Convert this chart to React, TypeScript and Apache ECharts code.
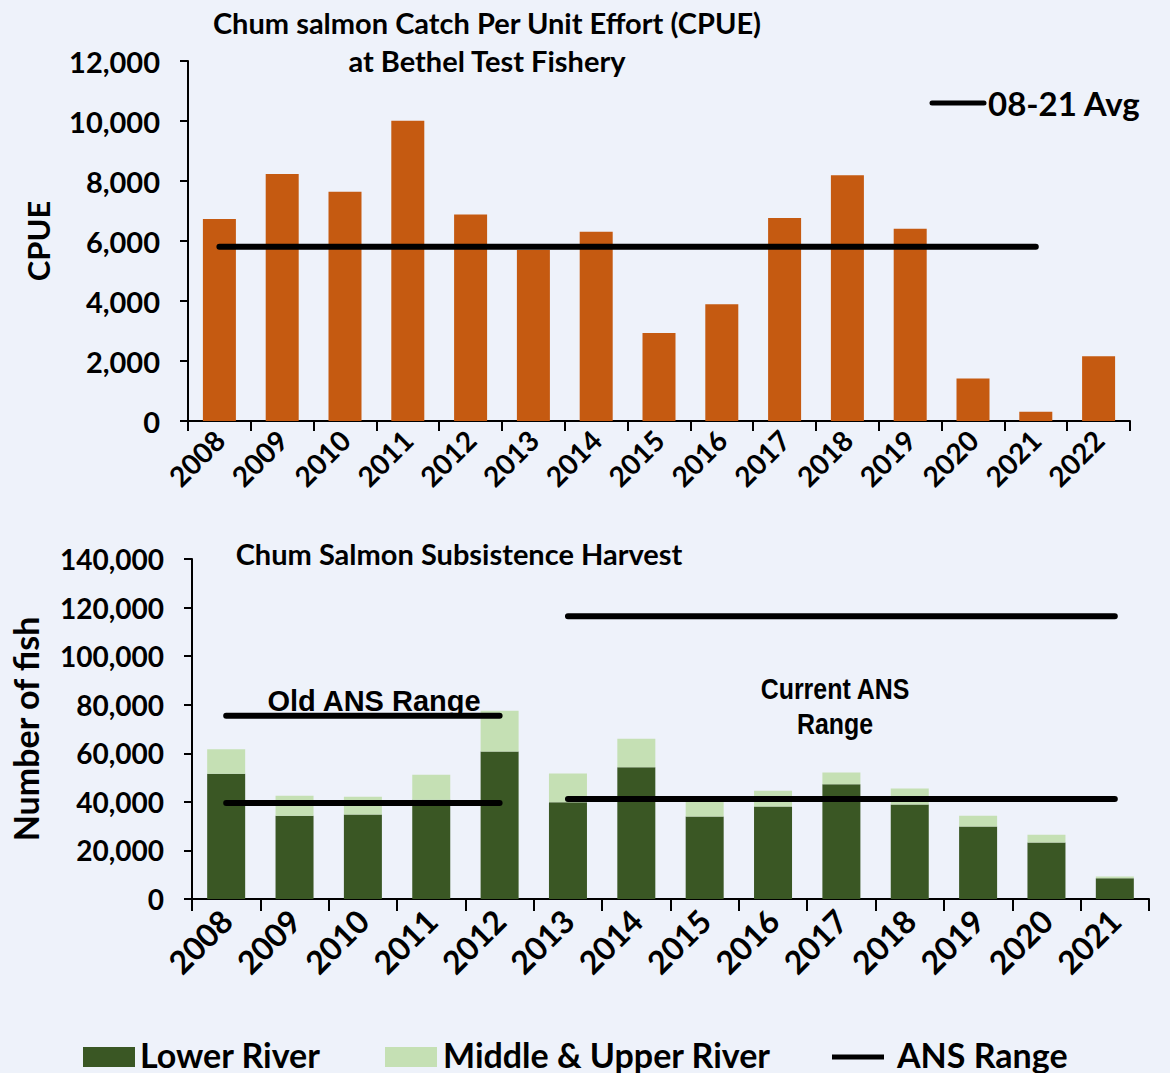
import React, { useEffect, useRef } from "react";
import * as echarts from "echarts";

const cpueYears = ["2008","2009","2010","2011","2012","2013","2014","2015","2016","2017","2018","2019","2020","2021","2022"];
const cpueValues = [6730, 8230, 7640, 10010, 6880, 5700, 6310, 2930, 3890, 6770, 8190, 6410, 1420, 310, 2160];
const cpueAvg0821 = 5810;
const avgLastYear = "2021";

const harvestYears = ["2008","2009","2010","2011","2012","2013","2014","2015","2016","2017","2018","2019","2020","2021"];
const lowerRiver = [51600, 34300, 34800, 40900, 60700, 39800, 54300, 34000, 38100, 47300, 38900, 29900, 23300, 8500];
const middleUpperRiver = [10100, 8200, 7300, 10300, 16800, 11900, 11700, 6500, 6500, 4800, 6600, 4400, 3200, 800];

const oldANS = { low: 39500, high: 75500, from: "2008", to: "2012" };
const currentANS = { low: 41200, high: 116400, from: "2013", to: "2021" };

const BG = "#EEF2FA";
const ORANGE = "#C55A11";
const DARK = "#3A5724";
const LIGHT = "#C5E0B4";
const FONT = "Lato, 'Open Sans', sans-serif";
const ARIAL = "'Liberation Sans', Arial, sans-serif";

const fmt = (v: number) => v.toLocaleString("en-US");

function rangeSeries(value: number, from: string, to: string) {
  const a = harvestYears.indexOf(from);
  const b = harvestYears.indexOf(to);
  return harvestYears.map((_, i) => (i >= a && i <= b ? value : "-"));
}

function txt(x: number, y: number, text: string, font: string, align = "center", extra: any = {}) {
  return {
    type: "text", x, y, z: 10, ...extra,
    style: { text, align, verticalAlign: "middle", textAlign: align, textVerticalAlign: "middle", font, fill: "#000" },
  };
}

export default function App() {
  const ref = useRef<HTMLDivElement>(null);
  useEffect(() => {
    document.body.style.margin = "0";
    const chart = echarts.init(ref.current!, null, { renderer: "svg" });
    const lastIdx = cpueYears.indexOf(avgLastYear);
    const avgData = cpueYears.map((_, i) => (i <= lastIdx ? cpueAvg0821 : "-"));
    const axisLine = { show: true, lineStyle: { color: "#000", width: 2 } };
    const lineStyle = { color: "#000", width: 6, cap: "round" as const };
    chart.setOption({
      animation: false,
      backgroundColor: BG,
      grid: [
        { left: 188, right: 40, top: 61, height: 360 },
        { left: 186, right: 21, top: 559, height: 340 },
      ],
      xAxis: [
        {
          type: "category", gridIndex: 0, data: cpueYears,
          axisLine, axisTick: { show: true, length: 10, lineStyle: { color: "#000", width: 2 } },
          axisLabel: { rotate: 45, margin: 14, color: "#000", fontFamily: FONT, fontWeight: "bold", fontSize: 28 },
        },
        {
          type: "category", gridIndex: 1, data: harvestYears,
          axisLine, axisTick: { show: true, length: 12, lineStyle: { color: "#000", width: 2 } },
          axisLabel: { rotate: 45, margin: 16, color: "#000", fontFamily: FONT, fontWeight: "bold", fontSize: 32 },
        },
      ],
      yAxis: [
        {
          type: "value", gridIndex: 0, min: 0, max: 12000, interval: 2000,
          name: "CPUE", nameLocation: "middle", nameGap: 135, nameRotate: 90,
          nameTextStyle: { color: "#000", fontFamily: FONT, fontWeight: "bold", fontSize: 31 },
          axisLine, axisTick: { show: true, length: 8, lineStyle: { color: "#000", width: 2 } },
          splitLine: { show: false },
          axisLabel: { formatter: fmt, margin: 28, color: "#000", fontFamily: FONT, fontWeight: "bold", fontSize: 29 },
        },
        {
          type: "value", gridIndex: 1, min: 0, max: 140000, interval: 20000,
          name: "Number of fish", nameLocation: "middle", nameGap: 150, nameRotate: 90,
          nameTextStyle: { color: "#000", fontFamily: FONT, fontWeight: "bold", fontSize: 34 },
          axisLine, axisTick: { show: true, length: 8, lineStyle: { color: "#000", width: 2 } },
          splitLine: { show: false },
          axisLabel: { formatter: fmt, margin: 28, color: "#000", fontFamily: FONT, fontWeight: "bold", fontSize: 28 },
        },
      ],
      series: [
        {
          type: "bar", xAxisIndex: 0, yAxisIndex: 0, data: cpueValues, barWidth: 33,
          itemStyle: { color: ORANGE },
        },
        {
          type: "line", xAxisIndex: 0, yAxisIndex: 0, data: avgData, showSymbol: false,
          lineStyle, z: 5,
        },
        {
          type: "bar", xAxisIndex: 1, yAxisIndex: 1, data: lowerRiver, stack: "h", barWidth: 38,
          itemStyle: { color: DARK },
        },
        {
          type: "bar", xAxisIndex: 1, yAxisIndex: 1, data: middleUpperRiver, stack: "h", barWidth: 38,
          itemStyle: { color: LIGHT },
        },
        { type: "line", xAxisIndex: 1, yAxisIndex: 1, data: rangeSeries(oldANS.low, oldANS.from, oldANS.to), showSymbol: false, lineStyle, z: 5 },
        { type: "line", xAxisIndex: 1, yAxisIndex: 1, data: rangeSeries(oldANS.high, oldANS.from, oldANS.to), showSymbol: false, lineStyle, z: 5 },
        { type: "line", xAxisIndex: 1, yAxisIndex: 1, data: rangeSeries(currentANS.low, currentANS.from, currentANS.to), showSymbol: false, lineStyle, z: 5 },
        { type: "line", xAxisIndex: 1, yAxisIndex: 1, data: rangeSeries(currentANS.high, currentANS.from, currentANS.to), showSymbol: false, lineStyle, z: 5 },
      ],
      graphic: [
        txt(487, 22, "Chum salmon Catch Per Unit Effort (CPUE)", `bold 29px ${FONT}`),
        txt(487, 60, "at Bethel Test Fishery", `bold 29px ${FONT}`),
        { type: "line", shape: { x1: 932, y1: 103, x2: 984, y2: 103 }, style: { stroke: "#000", lineWidth: 5, lineCap: "round" } },
        txt(988, 103, "08-21 Avg", `bold 33px ${FONT}`, "left"),
        txt(459, 553, "Chum Salmon Subsistence Harvest", `bold 29px ${FONT}`),
        txt(374, 701, "Old ANS Range", `bold 29px ${ARIAL}`),
        txt(835, 689, "Current ANS", `bold 29px ${ARIAL}`, "center", { scaleX: 0.86 }),
        txt(835, 724, "Range", `bold 29px ${ARIAL}`, "center", { scaleX: 0.86 }),
        { type: "rect", shape: { x: 83, y: 1047, width: 52, height: 20 }, style: { fill: DARK } },
        txt(140, 1054, "Lower River", `bold 34px ${FONT}`, "left"),
        { type: "rect", shape: { x: 385, y: 1047, width: 52, height: 20 }, style: { fill: LIGHT } },
        txt(443, 1054, "Middle & Upper River", `bold 34px ${FONT}`, "left"),
        { type: "line", shape: { x1: 832, y1: 1057, x2: 884, y2: 1057 }, style: { stroke: "#000", lineWidth: 5 } },
        txt(897, 1054, "ANS Range", `bold 34px ${FONT}`, "left"),
      ],
    });
    return () => chart.dispose();
  }, []);
  return <div ref={ref} style={{ width: 1170, height: 1073 }} />;
}
